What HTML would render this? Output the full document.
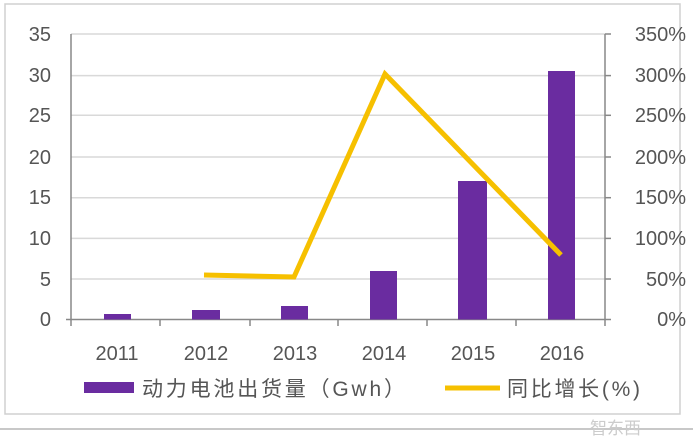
<!DOCTYPE html>
<html><head><meta charset="utf-8"><style>
body{margin:0;background:#fff;}
svg text{font-family:"Liberation Sans","Noto Sans CJK SC",sans-serif;fill:#555;}
</style></head><body>
<svg width="693" height="437" xmlns="http://www.w3.org/2000/svg">
<rect x="0" y="0" width="693" height="437" fill="#fff"/>
<rect x="5" y="4" width="675" height="410" fill="none" stroke="#d0d0d0" stroke-width="1.5"/>
<line x1="0" y1="429" x2="693" y2="429" stroke="#c8c8c8" stroke-width="2"/>
<g stroke="#d9d9d9" stroke-width="1.5">
<line x1="71" y1="34" x2="605" y2="34"/><line x1="71" y1="75.6" x2="605" y2="75.6"/>
<line x1="71" y1="115.3" x2="605" y2="115.3"/><line x1="71" y1="157" x2="605" y2="157"/>
<line x1="71" y1="197.7" x2="605" y2="197.7"/><line x1="71" y1="238.4" x2="605" y2="238.4"/>
<line x1="71" y1="279" x2="605" y2="279"/>
</g>
<g stroke="#888" stroke-width="1.5">
<line x1="71" y1="34" x2="71" y2="326"/><line x1="605" y1="34" x2="605" y2="326"/>
<line x1="66" y1="319.5" x2="605" y2="319.5"/>
<line x1="160" y1="319" x2="160" y2="326"/><line x1="250" y1="319" x2="250" y2="326"/>
<line x1="338" y1="319" x2="338" y2="326"/><line x1="427" y1="319" x2="427" y2="326"/>
<line x1="516" y1="319" x2="516" y2="326"/>
<line x1="605" y1="34" x2="611" y2="34"/><line x1="605" y1="75.6" x2="611" y2="75.6"/>
<line x1="605" y1="115.3" x2="611" y2="115.3"/><line x1="605" y1="157" x2="611" y2="157"/>
<line x1="605" y1="197.7" x2="611" y2="197.7"/><line x1="605" y1="238.4" x2="611" y2="238.4"/>
<line x1="605" y1="279" x2="611" y2="279"/><line x1="605" y1="319.5" x2="611" y2="319.5"/>
</g>
<g fill="#6a2ca0">
<rect x="104" y="314" width="27" height="5.5"/>
<rect x="192" y="310" width="28" height="9.5"/>
<rect x="281" y="306" width="27" height="13.5"/>
<rect x="370" y="271" width="27" height="48.5"/>
<rect x="458" y="181" width="29" height="138.5"/>
<rect x="548" y="71" width="27" height="248.5"/>
</g>
<polyline points="204,275 294,277 385,74 561,255" fill="none" stroke="#f6c000" stroke-width="5" stroke-linejoin="miter"/>
<g font-size="20" text-anchor="end">
<text x="51" y="41">35</text><text x="51" y="82">30</text><text x="51" y="122">25</text>
<text x="51" y="164">20</text><text x="51" y="204">15</text><text x="51" y="245">10</text>
<text x="51" y="286">5</text><text x="51" y="326">0</text>
</g>
<g font-size="20" text-anchor="end">
<text x="686" y="41">350%</text><text x="686" y="82">300%</text><text x="686" y="122">250%</text>
<text x="686" y="164">200%</text><text x="686" y="204">150%</text><text x="686" y="245">100%</text>
<text x="686" y="286">50%</text><text x="686" y="326">0%</text>
</g>
<g font-size="20" text-anchor="middle">
<text x="117" y="360">2011</text><text x="206" y="360">2012</text><text x="295" y="360">2013</text>
<text x="384" y="360">2014</text><text x="473" y="360">2015</text><text x="562" y="360">2016</text>
</g>
<rect x="84" y="382" width="50" height="11" fill="#6a2ca0"/>
<text x="142" y="396" font-size="21" textLength="263" lengthAdjust="spacing">动力电池出货量（Gwh）</text>
<line x1="445" y1="388" x2="500" y2="388" stroke="#f6c000" stroke-width="5"/>
<text x="507" y="396" font-size="21" textLength="133" lengthAdjust="spacing">同比增长(%)</text>
<text x="590" y="434" font-size="17" style="fill:#ccc">智东西</text>
</svg>
</body></html>
